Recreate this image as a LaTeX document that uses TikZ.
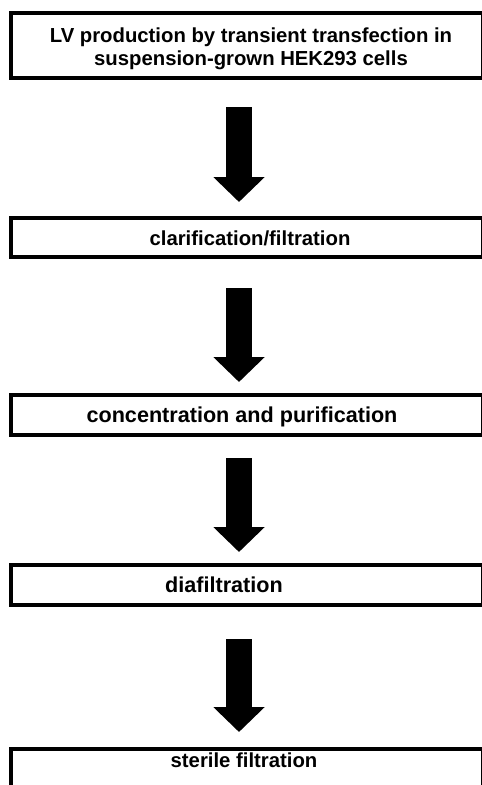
\documentclass[tikz,border=0pt]{standalone}
\usepackage{fontspec}
\setmainfont{Liberation Sans}
\usetikzlibrary{arrows.meta}
\begin{document}
\begin{tikzpicture}[x=1pt,y=-1pt,
  box/.style={draw=black, line width=3.5pt, fill=white, inner sep=0pt, outer sep=0pt, minimum width=472.3pt},
  lbl/.style={font=\bfseries\fontsize{20.3}{23}\selectfont, inner sep=0pt, anchor=base, align=center},
  lblb/.style={lbl, font=\bfseries\fontsize{21.6}{23}\selectfont},
  bigarrow/.style={line width=26pt, -{Triangle[length=25pt, width=50pt]}, black}]
\useasboundingbox (0,0) rectangle (482,785);
\coordinate (ax) at (239,0);
\node[box, minimum height=65pt] (b1) at (246.9,45.5) {};
\node[box, minimum height=39pt] (b2) at (246.9,237.5) {};
\node[box, minimum height=40pt] (b3) at (246.9,415) {};
\node[box, minimum height=40pt] (b4) at (246.9,585) {};
\node[box, minimum height=51pt] (b5) at (246.9,774.5) {};
\node[lbl] (t1a) at (251,42) {LV production by transient transfection in};
\node[lbl] (t1b) at (251,65) {suspension-grown HEK293 cells};
\node[lbl] (t2) at (250,245) {clarification/filtration};
\node[lblb] (t3) at (242,422) {concentration and purification};
\node[lblb] (t4) at (224,592) {diafiltration};
\node[lbl] (t5) at (244,767) {sterile filtration};
\draw[bigarrow, shorten <=29pt, shorten >=16pt] (b1.south -| ax) -- (b2.north -| ax);
\draw[bigarrow, shorten <=31pt, shorten >=13pt] (b2.south -| ax) -- (b3.north -| ax);
\draw[bigarrow, shorten <=23pt, shorten >=13pt] (b3.south -| ax) -- (b4.north -| ax);
\draw[bigarrow, shorten <=34pt, shorten >=17pt] (b4.south -| ax) -- (b5.north -| ax);
\end{tikzpicture}
\end{document}
